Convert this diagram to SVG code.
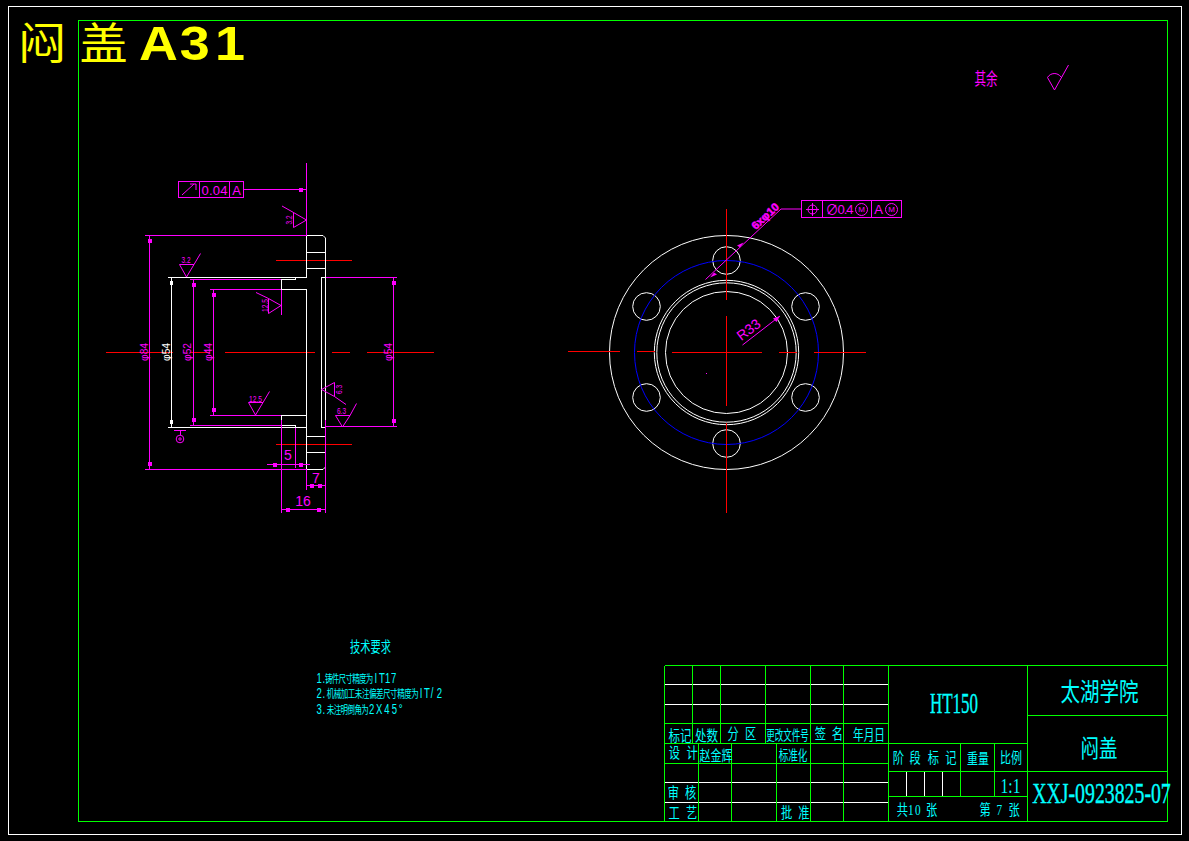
<svg xmlns="http://www.w3.org/2000/svg" width="1189" height="841" viewBox="0 0 1189 841">
<style>
.l{fill:none;shape-rendering:crispEdges;stroke-width:1}
.a{fill:none;stroke-width:1}
.w{stroke:#fff}.g{stroke:#0f0}.m{stroke:#f0f}.r{stroke:#f00}.b{stroke:#00f}
.t{font-family:"Liberation Sans","Noto Sans CJK SC",sans-serif;text-anchor:middle;dominant-baseline:central}
.s{font-family:"Liberation Serif","Noto Sans CJK SC",serif;text-anchor:middle;dominant-baseline:central}
.n{font-family:"Noto Sans CJK SC",sans-serif;text-anchor:middle;dominant-baseline:central}
.st{font-family:"Liberation Serif","Noto Sans CJK SC",serif;dominant-baseline:central;font-size:15px}
.q{font-family:"Noto Sans CJK SC",sans-serif;dominant-baseline:central;font-size:11px}
.ql{font-family:"Liberation Sans",sans-serif;font-size:14px}
.c{fill:#0ff}.tm{fill:#f0f}.tw{fill:#fff}
.bc{stroke:#0ff;stroke-width:.35}
</style>
<defs>
<rect id="sq" x="-2" y="-2" width="4" height="4" fill="#f0f" shape-rendering="crispEdges"/>
<rect id="sw" x="-1.5" y="-2" width="3" height="4" fill="#fff" shape-rendering="crispEdges"/>
</defs>
<rect width="1189" height="841" fill="#000"/>
<g id="frames">
<rect class="l w" x="8.5" y="6.5" width="1173" height="828"/>
<rect class="l g" x="78.5" y="20.5" width="1089" height="801"/>
</g>
<g id="title-text" fill="#ff0">
<text transform="translate(18 59) scale(1.12 1)" x="0 30 55" font-size="43" font-family="Noto Sans CJK SC,sans-serif">闷 盖</text>
<text transform="translate(139 60) scale(1.1 1)" x="0 37 69" font-size="49" font-weight="bold" font-family="Liberation Sans,sans-serif">A31</text>
</g>
<g id="roughness-note">
<text class="n tm" transform="translate(986 77) scale(.68 1)" font-size="17">其余</text>
<path class="a m" d="M1047.5 77.5L1054.5 90L1068.5 65M1047.5 77.5A8 8 0 0 1 1061 77"/>
</g>
<g id="left-view">
<g id="left-centerlines">
<path class="l r" d="M106 352.5H173M190 352.5H210M225 352.5H315M332 352.5H350M367 352.5H434M276 260.5H352M276 444.5H352"/>
</g>
<g id="left-outline">
<path class="l w" d="M168 277.5H295.5V279.5H281.5V289.5H306.5V427.5H295.5V425.5H281.5V415.5H306.5M168 427.5H295.5M295.5 277.5H306.5V235.5H323M325.5 238V468M306.5 427.5V469.5H323M306.5 252.5H325.5M306.5 268.5H325.5M306.5 436.5H325.5M306.5 452.5H325.5M325.5 277.5H321.5V427.5H325.5M171.5 277.5V427.5"/>
<path class="a w" d="M323 235.5L325.5 238M323 469.5L325.5 467"/>
<use href="#sw" x="171.5" y="283"/><use href="#sw" x="171.5" y="421.5"/>
</g>
<g id="left-dimensions">
<path class="l m" d="M306.5 163V235.5M145 235.5H306M145 469.5H306M149.5 235.5V469.5M190 279.5H281M190 425.5H281M193.5 279.5V425.5M210 289.5H281M210 415.5H281M213.5 289.5V415.5M326 277.5H397M326 426.5H397M393.5 277.5V426.5M281.5 289.5V315M281.5 420V513M325.5 420V513M306.5 469V489.5M295.5 428V468M267 464.5H310M306.5 485.5H325.5M281.5 509.5H325.5"/>
<use href="#sq" x="149.5" y="241"/><use href="#sq" x="149.5" y="464"/>
<use href="#sq" x="193.5" y="285"/><use href="#sq" x="193.5" y="420"/>
<use href="#sq" x="213.5" y="295"/><use href="#sq" x="213.5" y="410"/>
<use href="#sq" x="393.5" y="283"/><use href="#sq" x="393.5" y="421"/>
<use href="#sq" x="275" y="464.5"/><use href="#sq" x="301" y="464.5"/>
<use href="#sq" x="312" y="485.5"/><use href="#sq" x="320" y="485.5"/>
<use href="#sq" x="288" y="509.5"/><use href="#sq" x="319" y="509.5"/>
<text class="t tm" transform="translate(144.5 352) rotate(-90)" font-size="10" textLength="18" lengthAdjust="spacingAndGlyphs">φ84</text>
<text class="t tw" transform="translate(166.5 352) rotate(-90)" font-size="10" textLength="18" lengthAdjust="spacingAndGlyphs">φ54</text>
<text class="t tm" transform="translate(187.5 352) rotate(-90)" font-size="10" textLength="18" lengthAdjust="spacingAndGlyphs">φ52</text>
<text class="t tm" transform="translate(208.5 352) rotate(-90)" font-size="10" textLength="18" lengthAdjust="spacingAndGlyphs">φ44</text>
<text class="t tm" transform="translate(388 352) rotate(-90)" font-size="10" textLength="18" lengthAdjust="spacingAndGlyphs">φ54</text>
<text class="t tm" x="288" y="455" font-size="14">5</text>
<text class="t tm" x="316" y="478" font-size="14">7</text>
<text class="t tm" x="303" y="501" font-size="14">16</text>
</g>
<g id="runout-tolerance">
<rect class="l m" x="178.5" y="181.5" width="65" height="16"/>
<path class="l m" d="M199.5 181.5V197.5M229.5 181.5V197.5M243.5 189.5H306"/>
<path class="a m" d="M182 195L194 184M190 184H196V190"/>
<use href="#sq" x="301" y="189.5"/>
<text class="t tm" x="214.5" y="190" font-size="13" textLength="26" lengthAdjust="spacing">0.04</text>
<text class="t tm" x="236.5" y="190" font-size="13">A</text>
</g>
<g id="surface-marks">
<path class="a m" d="M306.5 220L293.5 212.5V227.5ZM293.5 212.5L282 206M186.5 277L179.5 264.5H194ZM194 264.5L200.5 253.5M281 305.5L268.5 298.5V313.5ZM268.5 298.5L256 292.5M255.5 415L248.5 402.5H263ZM263 402.5L269.5 391.5M321.5 389.5L334.5 382.5V396.5ZM334.5 396.5L346 404.5M342.5 427L335.5 415.5H350ZM350 415.5L356.5 403.5"/>
<text class="t tm" transform="translate(288.5 220) rotate(-90)" font-size="9" textLength="9" lengthAdjust="spacingAndGlyphs">3.2</text>
<text class="t tm" x="186" y="260" font-size="9" textLength="9" lengthAdjust="spacingAndGlyphs">3.2</text>
<text class="t tm" transform="translate(264.5 305.5) rotate(-90)" font-size="9" textLength="13" lengthAdjust="spacingAndGlyphs">12.5</text>
<text class="t tm" x="255.5" y="398.5" font-size="9" textLength="13" lengthAdjust="spacingAndGlyphs">12.5</text>
<text class="t tm" transform="translate(339 389.5) rotate(-90)" font-size="9" textLength="9" lengthAdjust="spacingAndGlyphs">6.3</text>
<text class="t tm" x="341.5" y="411" font-size="9" textLength="9" lengthAdjust="spacingAndGlyphs">6.3</text>
<path class="l m" d="M174 430.5H186M180 430.5V435"/>
<circle class="a m" cx="180" cy="439" r="3.8"/>
<circle class="a m" cx="180" cy="439" r="1.2"/>
</g>
</g>
<g id="right-view">
<g id="right-circles">
<circle class="a w" cx="726.5" cy="352.5" r="117"/>
<circle class="a w" cx="726.5" cy="352.5" r="72.2"/>
<circle class="a w" cx="726.5" cy="352.5" r="69.7"/>
<circle class="a w" cx="726.5" cy="352.5" r="61"/>
<circle class="a w" cx="726.5" cy="260.5" r="13.8"/>
<circle class="a w" cx="726.5" cy="443.5" r="13.8"/>
<circle class="a w" cx="646.5" cy="306.5" r="13.8"/>
<circle class="a w" cx="805.5" cy="306.5" r="13.8"/>
<circle class="a w" cx="646.5" cy="397.5" r="13.8"/>
<circle class="a w" cx="805.5" cy="397.5" r="13.8"/>
</g>
<circle id="bolt-circle" class="a b" cx="726.5" cy="352.5" r="92"/>
<g id="right-centerlines">
<path class="l r" d="M726.5 209V299.5M726.5 316V406M726.5 423V513M568 351.5H620M637 351.5H655M672 352.5H762M779 352.5H797M814 352.5H866"/>
</g>
<g id="right-dimensions">
<path class="a m" d="M705.5 279.5L781 209H801M742.5 345L780 316"/>
<path d="M714 272.5L710 277.5L717 274.5ZM740 247.5L743.5 242.5L737 245.5ZM780 316L773 318.5L776.5 322Z" fill="#f0f"/>
<text class="t tm" transform="translate(765 216) rotate(-43)" font-size="11" font-weight="bold" stroke="#f0f" stroke-width=".5" textLength="33" lengthAdjust="spacingAndGlyphs">6xφ10</text>
<text class="t tm" transform="translate(748.5 329.5) rotate(-37)" font-size="14">R33</text>
<rect x="706" y="373" width="1" height="1" fill="#f0f"/>
</g>
<g id="position-tolerance">
<rect class="l m" x="801.5" y="200.5" width="100" height="17"/>
<path class="l m" d="M822.5 200.5V217.5M871.5 200.5V217.5M812.5 203V216M806 209.5H819"/>
<circle class="a m" cx="812.5" cy="209.5" r="4.5"/>
<circle class="a m" cx="861.5" cy="209.5" r="6"/>
<circle class="a m" cx="891.5" cy="209.5" r="6"/>
<text class="t tm" x="839.5" y="209.5" font-size="13" textLength="28" lengthAdjust="spacing">∅0.4</text>
<text class="t tm" x="861.5" y="209.5" font-size="8">M</text>
<text class="t tm" x="878.5" y="209.5" font-size="13">A</text>
<text class="t tm" x="891.5" y="209.5" font-size="8">M</text>
</g>
</g>
<g id="technical-requirements">
<text class="n c" transform="translate(370.5 646) scale(.68 1)" font-size="15">技术要求</text>
<text class="q c" transform="translate(316.5 678) scale(.68 1)" x="0 8.8 12.5 22.5 32.5 42.5 52.5 62.5 72.5 85.3 92 100.7 109.5"><tspan class="ql">1.</tspan>铸件尺寸精度为<tspan class="ql">IT17</tspan></text>
<text class="q c" transform="translate(316.5 693.5) scale(.68 1)" x="0 8.8 15 25.4 35.7 46.1 56.4 66.8 77.2 87.5 97.9 108.2 118.6 129 139.3 152 158 168 176.7"><tspan class="ql">2.</tspan>机械加工未注偏差尺寸精度为<tspan class="ql">IT/2</tspan></text>
<text class="q c" transform="translate(316.5 709) scale(.68 1)" x="0 8.8 15 25.2 35.4 45.6 55.8 66 77.2 87.5 99.7 110.6 121"><tspan class="ql">3.</tspan>未注明倒角为<tspan class="ql">2X45°</tspan></text>
</g>
<g id="title-block">
<path class="l w" d="M664.5 684.5H888.5M664.5 704.5H888.5M664.5 782.5H888.5M664.5 802.5H888.5M906.5 771.5V796.5M924.5 771.5V796.5M942.5 771.5V796.5"/>
<path class="l g" d="M664.5 665.5H1167.5M664.5 723.5H888.5M664.5 743.5H1027.5M664.5 763.5H888.5M664.5 821.5H1167.5M664.5 665.5V821.5M692.5 665.5V743.5M720.5 665.5V743.5M765.5 665.5V743.5M810.5 665.5V821.5M843.5 665.5V821.5M888.5 665.5V821.5M698.5 743.5V821.5M731.5 743.5V821.5M776.5 743.5V821.5M1027.5 665.5V821.5M1027.5 715.5H1167.5M888.5 771.5H1167.5M888.5 796.5H1027.5M960.5 743.5V796.5M994.5 743.5V796.5"/>
<g id="title-block-text" font-size="15">
<text class="n c" transform="translate(680 734) scale(.77 1)">标记</text>
<text class="n c" transform="translate(706.5 734) scale(.77 1)">处数</text>
<text class="st c" transform="translate(727.4 734) scale(.75 1)" x="0 12 23.6">分 区</text>
<text class="n c" transform="translate(787.5 734) scale(.63 1)" font-size="13.5">更改文件号</text>
<text class="st c" transform="translate(814.7 734) scale(.75 1)" x="0 11 22.7">签 名</text>
<text class="n c" transform="translate(869 734) scale(.71 1)">年月日</text>
<text class="st c" transform="translate(668.7 753) scale(.75 1)" x="0 12 23.6">设 计</text>
<text class="n c" transform="translate(716 754.5) scale(.73 1)">赵金辉</text>
<text class="n c" transform="translate(793 754) scale(.71 1)" font-size="13.5">标准化</text>
<text class="st c" transform="translate(667.7 792.5) scale(.75 1)" x="0 12 23.2">审 核</text>
<text class="st c" transform="translate(668.4 812.5) scale(.75 1)" x="0 12 23.6">工 艺</text>
<text class="st c" transform="translate(781.1 812.5) scale(.75 1)" x="0 12 23">批 准</text>
<text class="s c bc" transform="translate(954 703) scale(.565 1)" font-size="30">HT150</text>
<text class="n c" transform="translate(1099.5 689.5) scale(.78 1)" font-size="25">太湖学院</text>
<text class="n c" transform="translate(1099 746) scale(.77 1)" font-size="24">闷盖</text>
<text class="s c bc" transform="translate(1101.5 792) scale(.66 1)" font-size="30">XXJ-0923825-07</text>
<text class="st c" transform="translate(892.7 757.5) scale(.75 1)" x="0 22.3 46.7 70">阶段标记</text>
<text class="n c" transform="translate(978 757.5) scale(.73 1)">重量</text>
<text class="n c" transform="translate(1011 757) scale(.73 1)">比例</text>
<text class="s c" transform="translate(1010.5 786) scale(.74 1)" font-size="21">1:1</text>
<text class="st c" transform="translate(896.7 810) scale(.75 1)" x="0 15 24.4 39">共10张</text>
<text class="st c" transform="translate(979.4 810) scale(.75 1)" x="0 10 22.8 32 38.7" xml:space="preserve">第 7 张</text>
</g>
</g>
</svg>
